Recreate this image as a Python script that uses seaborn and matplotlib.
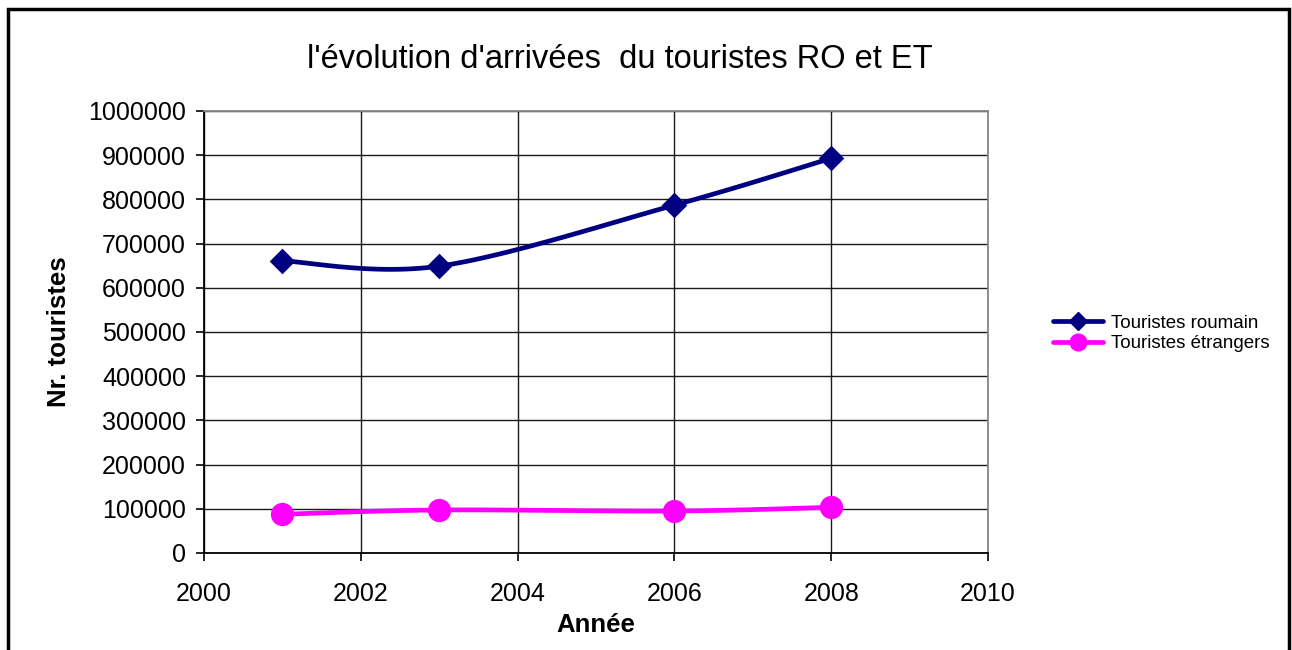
import numpy as np
import pandas as pd
import matplotlib
matplotlib.use("Agg")
import matplotlib.pyplot as plt
import seaborn as sns
from matplotlib.lines import Line2D
from matplotlib.patches import Rectangle

years = [2001, 2003, 2006, 2008]
roumains = [661000, 649000, 787000, 893000]
etrangers = [87600, 97300, 95000, 103400]
series_names = ["Touristes roumain", "Touristes étrangers"]
colors = ["#000080", "#FF00FF"]
x_ticks = [2000, 2002, 2004, 2006, 2008, 2010]
y_ticks = list(range(0, 1000001, 100000))

sns.set_theme(style="white")
plt.rcParams['font.family'] = ['Liberation Sans', 'DejaVu Sans']
plt.rcParams['text.color'] = 'black'
plt.rcParams['axes.labelcolor'] = 'black'
plt.rcParams['xtick.color'] = 'black'
plt.rcParams['ytick.color'] = 'black'


def smooth(xs, ys, n=40):
    # Excel-style smoothing: cubic Bezier with Catmull-Rom control points
    P = np.column_stack([xs, ys]).astype(float)
    out = []
    for i in range(len(P) - 1):
        p0 = P[i - 1] if i > 0 else P[i]
        p1 = P[i]
        p2 = P[i + 1]
        p3 = P[i + 2] if i + 2 < len(P) else P[i + 1]
        c1 = p1 + (p2 - p0) / 6.0
        c2 = p2 - (p3 - p1) / 6.0
        t = np.linspace(0, 1, n)[:, None]
        seg = ((1 - t) ** 3) * p1 + 3 * ((1 - t) ** 2) * t * c1 + 3 * (1 - t) * t ** 2 * c2 + t ** 3 * p2
        out.append(seg if i == 0 else seg[1:])
    arr = np.vstack(out)
    return arr[:, 0], arr[:, 1]


fig = plt.figure(figsize=(12.92, 6.5), dpi=100)
ax = fig.add_axes([204 / 1292, 1 - 553 / 650, (988 - 204) / 1292, (553 - 111) / 650])

markers = ["D", "o"]
msizes = [170, 280]
for vals, col, mk, ms in zip([roumains, etrangers], colors, markers, msizes):
    sx, sy = smooth(years, vals)
    df = pd.DataFrame({"x": sx, "y": sy})
    sns.lineplot(data=df, x="x", y="y", sort=False, color=col, linewidth=3.4, ax=ax, zorder=3)
    sns.scatterplot(x=years, y=vals, color=col, marker=mk, s=ms, edgecolor=col, linewidth=0, ax=ax, zorder=4)

ax.set_xlim(2000, 2010)
ax.set_ylim(0, 1000000)
ax.set_xticks(x_ticks)
ax.set_yticks(y_ticks)
ax.set_xticklabels([str(v) for v in x_ticks], fontsize=18, color="black")
ax.set_yticklabels([str(v) for v in y_ticks], fontsize=18, color="black")
ax.grid(True, color="#1a1a1a", linewidth=1.0)
ax.set_axisbelow(True)
ax.tick_params(axis="both", which="both", direction="out", length=6, width=1.2, color="black",
               bottom=True, left=True)
ax.tick_params(axis="y", pad=7)
ax.tick_params(axis="x", pad=15)
for side in ["left", "bottom"]:
    ax.spines[side].set_color("black")
    ax.spines[side].set_linewidth(1.3)
for side in ["right", "top"]:
    ax.spines[side].set_color("#888888")
    ax.spines[side].set_linewidth(1.3)

ax.set_xlabel("Année", fontsize=18.5, fontweight="bold", labelpad=5)
ax.set_ylabel("Nr. touristes", fontsize=18.5, fontweight="bold", labelpad=12)
fig.text(620 / 1292, 1 - 60 / 650, "l'évolution d'arrivées  du touristes RO et ET",
         fontsize=23.5, ha="center", va="center", color="black")

handles = [Line2D([0], [0], color=colors[0], lw=3.4, marker="D", markersize=9),
           Line2D([0], [0], color=colors[1], lw=3.4, marker="o", markersize=12)]
fig.legend(handles, series_names, loc="upper left", bbox_to_anchor=(1045 / 1292, 1 - 307 / 650),
           frameon=False, fontsize=13.5, handlelength=2.7, handletextpad=0.4, labelspacing=0.2,
           borderaxespad=0)

fig.patches.append(Rectangle((8 / 1292, -0.05), (1289 - 8) / 1292, 1.05 - 9 / 650,
                             transform=fig.transFigure, fill=False, edgecolor="black", linewidth=2.5))

fig.savefig("out.png", dpi=100, facecolor="white")
